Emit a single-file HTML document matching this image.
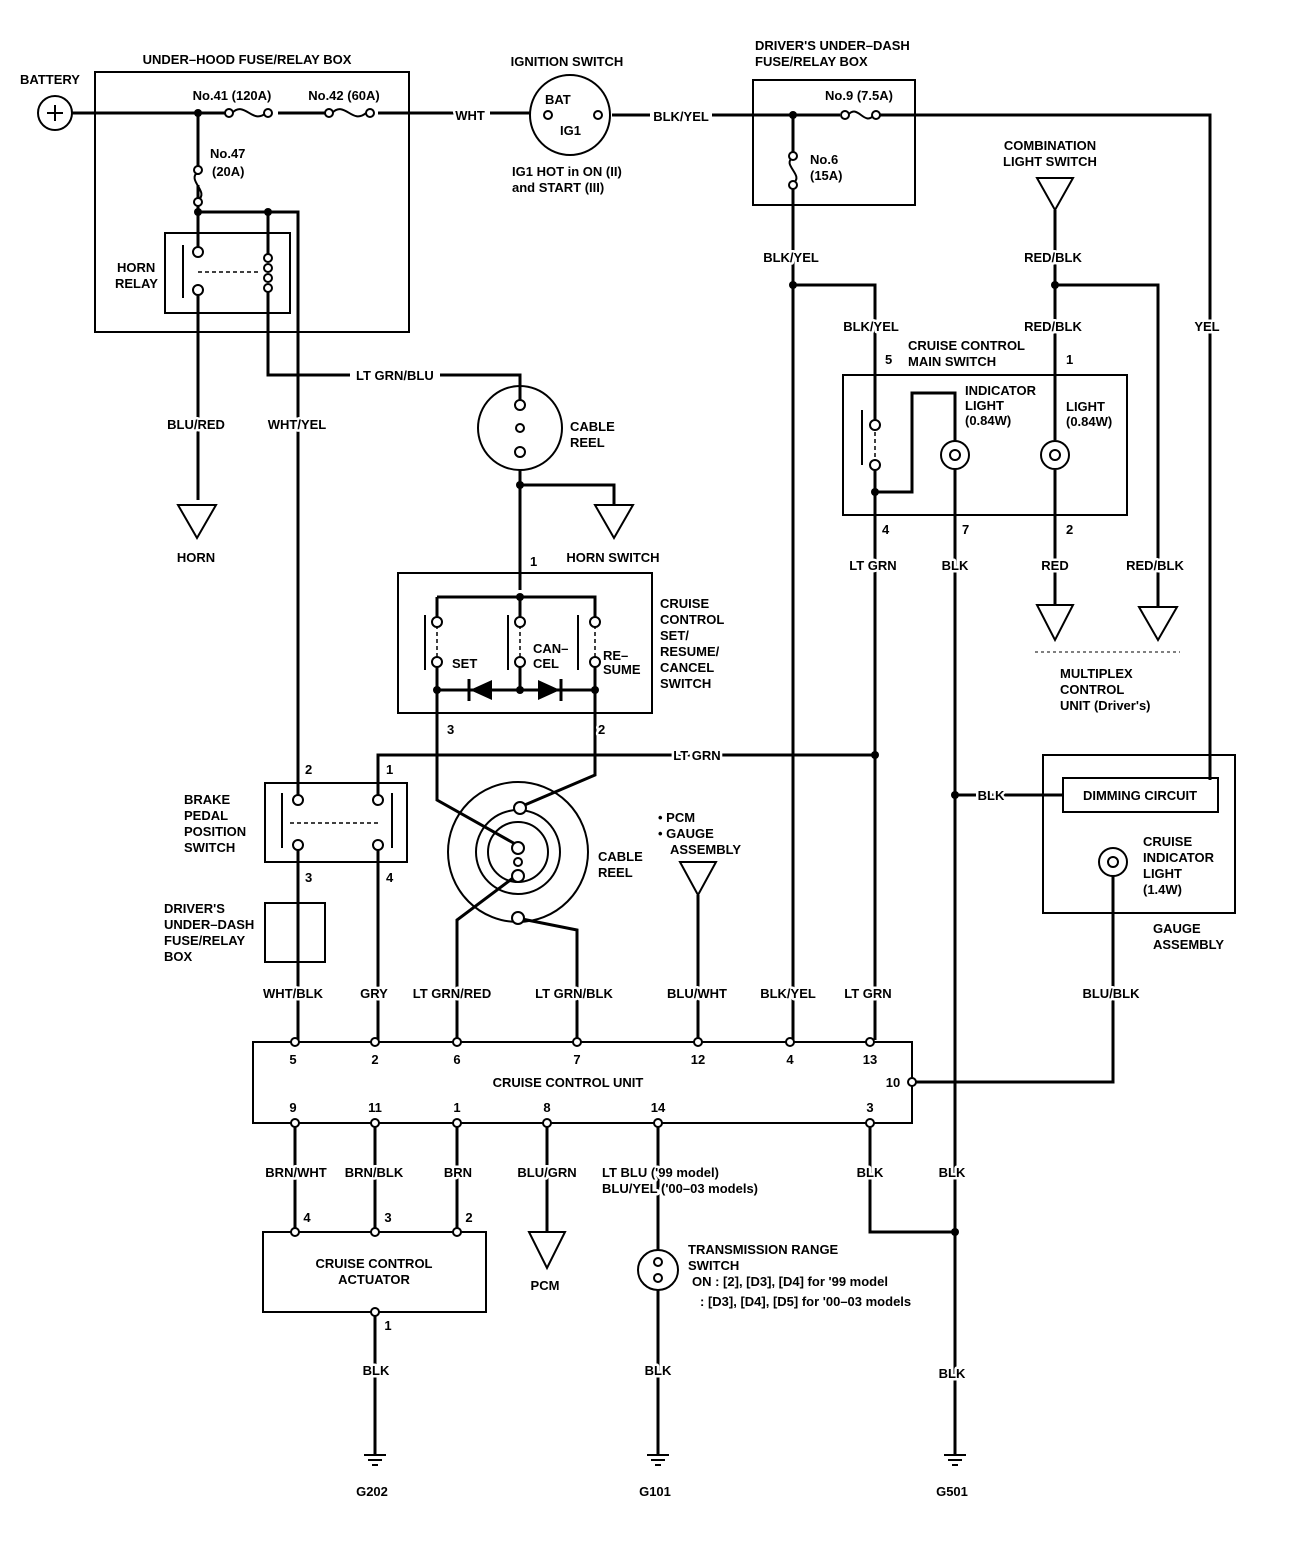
<!DOCTYPE html>
<html><head><meta charset="utf-8"><style>
html,body{margin:0;padding:0;background:#fff}
svg{display:block}
text{font-family:"Liberation Sans Narrow","Liberation Sans",sans-serif;font-weight:bold;font-size:13px;fill:#000;stroke:#fff;stroke-width:5px;paint-order:stroke;stroke-linejoin:round}
.m{text-anchor:middle}
</style></head><body>
<svg width="1312" height="1564" viewBox="0 0 1312 1564" xmlns="http://www.w3.org/2000/svg">
<defs>
<g id="gnd"><line x1="0" y1="0" x2="0" y2="10" stroke="#000" stroke-width="3"/><line x1="-11" y1="10" x2="11" y2="10" stroke="#000" stroke-width="2"/><line x1="-7" y1="15" x2="7" y2="15" stroke="#000" stroke-width="2"/><line x1="-3" y1="20" x2="3" y2="20" stroke="#000" stroke-width="2"/></g>
</defs>
<g fill="none" stroke="#000" stroke-width="3">
<g stroke-width="2">
<rect x="95" y="72" width="314" height="260"/>
<rect x="165" y="233" width="125" height="80"/>
<rect x="753" y="80" width="162" height="125"/>
<rect x="843" y="375" width="284" height="140"/>
<rect x="398" y="573" width="254" height="140"/>
<rect x="265" y="783" width="142" height="79"/>
<rect x="265" y="903" width="60" height="59"/>
<rect x="1043" y="755" width="192" height="158"/>
<rect x="1063" y="778" width="155" height="34"/>
<rect x="253" y="1042" width="659" height="81"/>
<rect x="263" y="1232" width="223" height="80"/>
<circle cx="55" cy="113" r="17"/>
<circle cx="570" cy="115" r="40"/>
<circle cx="520" cy="428" r="42"/>
<circle cx="518" cy="852" r="70"/>
<circle cx="518" cy="852" r="42"/>
<circle cx="518" cy="852" r="30"/>
<circle cx="955" cy="455" r="14"/>
<circle cx="1055" cy="455" r="14"/>
<circle cx="1113" cy="862" r="14"/>
<circle cx="658" cy="1270" r="20"/>
<path d="M178 505 L216 505 L197 538 Z"/>
<path d="M595 505 L633 505 L614 538 Z"/>
<path d="M1037 178 L1073 178 L1055 210 Z"/>
<path d="M1037 605 L1073 605 L1055 640 Z"/>
<path d="M1139 607 L1177 607 L1158 640 Z"/>
<path d="M680 862 L716 862 L698 895 Z"/>
<path d="M529 1232 L565 1232 L547 1268 Z"/>
<line x1="183" y1="245" x2="183" y2="298"/>
<line x1="862" y1="410" x2="862" y2="465"/>
<line x1="425" y1="615" x2="425" y2="670"/>
<line x1="508" y1="615" x2="508" y2="670"/>
<line x1="578" y1="615" x2="578" y2="670"/>
<line x1="282" y1="793" x2="282" y2="848"/>
<line x1="392" y1="793" x2="392" y2="848"/>
<line x1="47" y1="113" x2="63" y2="113"/><line x1="55" y1="105" x2="55" y2="121"/>
</g>
<g stroke-width="1.5" stroke-dasharray="4,3">
<line x1="198" y1="272" x2="260" y2="272"/>
<line x1="290" y1="823" x2="378" y2="823"/>
<line x1="437" y1="625" x2="437" y2="660"/><line x1="520" y1="625" x2="520" y2="660"/><line x1="595" y1="625" x2="595" y2="660"/>
<line x1="875" y1="425" x2="875" y2="465"/>
</g>
<path d="M72 113 H228 M278 113 H330 M378 113 H460 M490 113 H530"/>
<path d="M612 115 H650 M712 115 H840 M880 115 H1210 V780"/>
<path d="M198 113 V175 M198 185 V250 M198 290 V500"/>
<path d="M198 212 H298 V795 M268 212 V255 M268 290 V375 H350 M440 375 H520 V400"/>
<path d="M793 115 V155 M793 185 V1040 M793 285 H875 V420"/>
<path d="M1055 210 V440 M1055 285 H1158 V607 M1055 470 V605"/>
<path d="M875 470 V1040 M875 492 H912 V393 H955 V441 M955 469 V1445 M955 795 H1063 M1210 780 V778"/>
<path d="M875 755 H378 V795 M378 850 V1040 M298 850 V1040"/>
<path d="M520 470 V590 M520 485 H614 V505"/>
<path d="M437 597 H595 V620 M437 597 V620 M520 597 V620 M437 660 V800 L517 845 M595 660 V775 L520 807 M437 690 H595 M520 660 V690"/>
<path d="M517 875 L457 920 V1040 M517 918 L577 930 V1040"/>
<path d="M698 895 V1040"/>
<path d="M1113 876 V1082 H912"/>
<path d="M295 1123 V1232 M375 1123 V1232 M457 1123 V1232 M547 1123 V1232 M658 1123 V1250 M658 1290 V1445 M870 1123 V1232 H955"/>
<path d="M375 1312 V1445"/>
</g>
<g fill="#fff" stroke="#000" stroke-width="2">
<path d="M232 113 C245 100 252 125 266 113" fill="none"/>
<path d="M332 113 C345 100 352 125 366 113" fill="none"/>
<path d="M848 115 C858 103 864 127 874 115" fill="none"/>
<path d="M198 172 C186 180 210 192 198 200" fill="none"/>
<path d="M793 158 C781 164 805 176 793 183" fill="none"/>
<circle cx="229" cy="113" r="4"/><circle cx="268" cy="113" r="4"/>
<circle cx="329" cy="113" r="4"/><circle cx="370" cy="113" r="4"/>
<circle cx="845" cy="115" r="4"/><circle cx="876" cy="115" r="4"/>
<circle cx="198" cy="170" r="4"/><circle cx="198" cy="202" r="4"/>
<circle cx="793" cy="156" r="4"/><circle cx="793" cy="185" r="4"/>
<circle cx="198" cy="252" r="5"/><circle cx="198" cy="290" r="5"/>
<circle cx="268" cy="258" r="4"/><circle cx="268" cy="268" r="4"/><circle cx="268" cy="278" r="4"/><circle cx="268" cy="288" r="4"/>
<circle cx="548" cy="115" r="4"/><circle cx="598" cy="115" r="4"/>
<circle cx="520" cy="405" r="5"/><circle cx="520" cy="428" r="4"/><circle cx="520" cy="452" r="5"/>
<circle cx="875" cy="425" r="5"/><circle cx="875" cy="465" r="5"/>
<circle cx="437" cy="622" r="5"/><circle cx="437" cy="662" r="5"/>
<circle cx="520" cy="622" r="5"/><circle cx="520" cy="662" r="5"/>
<circle cx="595" cy="622" r="5"/><circle cx="595" cy="662" r="5"/>
<circle cx="298" cy="800" r="5"/><circle cx="298" cy="845" r="5"/>
<circle cx="378" cy="800" r="5"/><circle cx="378" cy="845" r="5"/>
<circle cx="520" cy="808" r="6"/><circle cx="518" cy="848" r="6"/><circle cx="518" cy="862" r="4"/><circle cx="518" cy="876" r="6"/><circle cx="518" cy="918" r="6"/>
<circle cx="955" cy="455" r="5"/><circle cx="1055" cy="455" r="5"/><circle cx="1113" cy="862" r="5"/>
<circle cx="295" cy="1042" r="4"/><circle cx="375" cy="1042" r="4"/><circle cx="457" cy="1042" r="4"/><circle cx="577" cy="1042" r="4"/><circle cx="698" cy="1042" r="4"/><circle cx="790" cy="1042" r="4"/><circle cx="870" cy="1042" r="4"/>
<circle cx="912" cy="1082" r="4"/>
<circle cx="295" cy="1123" r="4"/><circle cx="375" cy="1123" r="4"/><circle cx="457" cy="1123" r="4"/><circle cx="547" cy="1123" r="4"/><circle cx="658" cy="1123" r="4"/><circle cx="870" cy="1123" r="4"/>
<circle cx="295" cy="1232" r="4"/><circle cx="375" cy="1232" r="4"/><circle cx="457" cy="1232" r="4"/><circle cx="375" cy="1312" r="4"/>
<circle cx="658" cy="1262" r="4"/><circle cx="658" cy="1278" r="4"/>
</g>
<path d="M470 690 L492 680 L492 700 Z M560 690 L538 680 L538 700 Z" fill="#000"/>
<path d="M469 679 V701 M561 679 V701" stroke="#000" stroke-width="3"/>
<g fill="#000">
<circle cx="198" cy="113" r="4"/><circle cx="198" cy="212" r="4"/><circle cx="268" cy="212" r="4"/>
<circle cx="793" cy="115" r="4"/><circle cx="793" cy="285" r="4"/><circle cx="1055" cy="285" r="4"/>
<circle cx="520" cy="485" r="4"/><circle cx="520" cy="597" r="4"/><circle cx="437" cy="690" r="4"/><circle cx="520" cy="690" r="4"/><circle cx="595" cy="690" r="4"/>
<circle cx="875" cy="492" r="4"/><circle cx="875" cy="755" r="4"/><circle cx="955" cy="795" r="4"/><circle cx="955" cy="1232" r="4"/>
</g>
<use href="#gnd" x="375" y="1445"/><use href="#gnd" x="658" y="1445"/><use href="#gnd" x="955" y="1445"/>
<text x="50" y="84" class="m">BATTERY</text>
<text x="247" y="64" class="m">UNDER–HOOD FUSE/RELAY BOX</text>
<text x="232" y="100" class="m">No.41 (120A)</text>
<text x="344" y="100" class="m">No.42 (60A)</text>
<text x="210" y="158">No.47</text><text x="212" y="176">(20A)</text>
<text x="117" y="272">HORN</text><text x="115" y="288">RELAY</text>
<text x="470" y="120" class="m">WHT</text>
<text x="567" y="66" class="m">IGNITION SWITCH</text>
<text x="545" y="104">BAT</text><text x="560" y="135">IG1</text>
<text x="512" y="176">IG1 HOT in ON (II)</text><text x="512" y="192">and START (III)</text>
<text x="681" y="121" class="m">BLK/YEL</text>
<text x="755" y="50">DRIVER'S UNDER–DASH</text><text x="755" y="66">FUSE/RELAY BOX</text>
<text x="859" y="100" class="m">No.9 (7.5A)</text>
<text x="810" y="164">No.6</text><text x="810" y="180">(15A)</text>
<text x="1050" y="150" class="m">COMBINATION</text><text x="1050" y="166" class="m">LIGHT SWITCH</text>
<text x="791" y="262" class="m">BLK/YEL</text>
<text x="1053" y="262" class="m">RED/BLK</text>
<text x="871" y="331" class="m">BLK/YEL</text>
<text x="1053" y="331" class="m">RED/BLK</text>
<text x="1207" y="331" class="m">YEL</text>
<text x="885" y="364">5</text><text x="1066" y="364">1</text>
<text x="908" y="350">CRUISE CONTROL</text><text x="908" y="366">MAIN SWITCH</text>
<text x="965" y="395">INDICATOR</text><text x="965" y="410">LIGHT</text><text x="965" y="425">(0.84W)</text>
<text x="1066" y="411">LIGHT</text><text x="1066" y="426">(0.84W)</text>
<text x="882" y="534">4</text><text x="962" y="534">7</text><text x="1066" y="534">2</text>
<text x="873" y="570" class="m">LT GRN</text><text x="955" y="570" class="m">BLK</text><text x="1055" y="570" class="m">RED</text><text x="1155" y="570" class="m">RED/BLK</text>
<text x="1060" y="678">MULTIPLEX</text><text x="1060" y="694">CONTROL</text><text x="1060" y="710">UNIT (Driver's)</text>
<path d="M1035 652 H1180" stroke="#000" stroke-width="1" stroke-dasharray="3,3"/>
<text x="356" y="380">LT GRN/BLU</text>
<text x="196" y="429" class="m">BLU/RED</text>
<text x="297" y="429" class="m">WHT/YEL</text>
<text x="196" y="562" class="m">HORN</text>
<text x="570" y="431">CABLE</text><text x="570" y="447">REEL</text>
<text x="613" y="562" class="m">HORN SWITCH</text>
<text x="530" y="566">1</text>
<text x="452" y="668">SET</text><text x="533" y="653">CAN–</text><text x="533" y="668">CEL</text><text x="603" y="660">RE–</text><text x="603" y="674">SUME</text>
<text x="660" y="608">CRUISE</text><text x="660" y="624">CONTROL</text><text x="660" y="640">SET/</text><text x="660" y="656">RESUME/</text><text x="660" y="672">CANCEL</text><text x="660" y="688">SWITCH</text>
<text x="447" y="734">3</text><text x="598" y="734">2</text>
<text x="697" y="760" class="m">LT GRN</text>
<text x="305" y="774">2</text><text x="386" y="774">1</text>
<text x="184" y="804">BRAKE</text><text x="184" y="820">PEDAL</text><text x="184" y="836">POSITION</text><text x="184" y="852">SWITCH</text>
<text x="305" y="882">3</text><text x="386" y="882">4</text>
<text x="164" y="913">DRIVER'S</text><text x="164" y="929">UNDER–DASH</text><text x="164" y="945">FUSE/RELAY</text><text x="164" y="961">BOX</text>
<text x="598" y="861">CABLE</text><text x="598" y="877">REEL</text>
<text x="658" y="822">• PCM</text><text x="658" y="838">• GAUGE</text><text x="670" y="854">ASSEMBLY</text>
<text x="991" y="800" class="m">BLK</text>
<text x="1140" y="800" class="m">DIMMING CIRCUIT</text>
<text x="1143" y="846">CRUISE</text><text x="1143" y="862">INDICATOR</text><text x="1143" y="878">LIGHT</text><text x="1143" y="894">(1.4W)</text>
<text x="1153" y="933">GAUGE</text><text x="1153" y="949">ASSEMBLY</text>
<text x="293" y="998" class="m">WHT/BLK</text><text x="374" y="998" class="m">GRY</text><text x="452" y="998" class="m">LT GRN/RED</text><text x="574" y="998" class="m">LT GRN/BLK</text><text x="697" y="998" class="m">BLU/WHT</text><text x="788" y="998" class="m">BLK/YEL</text><text x="868" y="998" class="m">LT GRN</text><text x="1111" y="998" class="m">BLU/BLK</text>
<text x="293" y="1064" class="m">5</text><text x="375" y="1064" class="m">2</text><text x="457" y="1064" class="m">6</text><text x="577" y="1064" class="m">7</text><text x="698" y="1064" class="m">12</text><text x="790" y="1064" class="m">4</text><text x="870" y="1064" class="m">13</text>
<text x="568" y="1087" class="m">CRUISE CONTROL UNIT</text>
<text x="893" y="1087" class="m">10</text>
<text x="293" y="1112" class="m">9</text><text x="375" y="1112" class="m">11</text><text x="457" y="1112" class="m">1</text><text x="547" y="1112" class="m">8</text><text x="658" y="1112" class="m">14</text><text x="870" y="1112" class="m">3</text>
<text x="296" y="1177" class="m">BRN/WHT</text><text x="374" y="1177" class="m">BRN/BLK</text><text x="458" y="1177" class="m">BRN</text><text x="547" y="1177" class="m">BLU/GRN</text>
<text x="602" y="1177">LT BLU ('99 model)</text><text x="602" y="1193">BLU/YEL ('00–03 models)</text>
<text x="870" y="1177" class="m">BLK</text><text x="952" y="1177" class="m">BLK</text>
<text x="307" y="1222" class="m">4</text><text x="388" y="1222" class="m">3</text><text x="469" y="1222" class="m">2</text>
<text x="374" y="1268" class="m">CRUISE CONTROL</text><text x="374" y="1284" class="m">ACTUATOR</text>
<text x="545" y="1290" class="m">PCM</text>
<text x="688" y="1254">TRANSMISSION RANGE</text><text x="688" y="1270">SWITCH</text>
<text x="692" y="1286">ON : [2], [D3], [D4]  for '99 model</text>
<text x="700" y="1306">: [D3], [D4], [D5]  for '00–03 models</text>
<text x="388" y="1330" class="m">1</text>
<text x="376" y="1375" class="m">BLK</text><text x="658" y="1375" class="m">BLK</text><text x="952" y="1378" class="m">BLK</text>
<text x="372" y="1496" class="m">G202</text><text x="655" y="1496" class="m">G101</text><text x="952" y="1496" class="m">G501</text>
</svg>
</body></html>
